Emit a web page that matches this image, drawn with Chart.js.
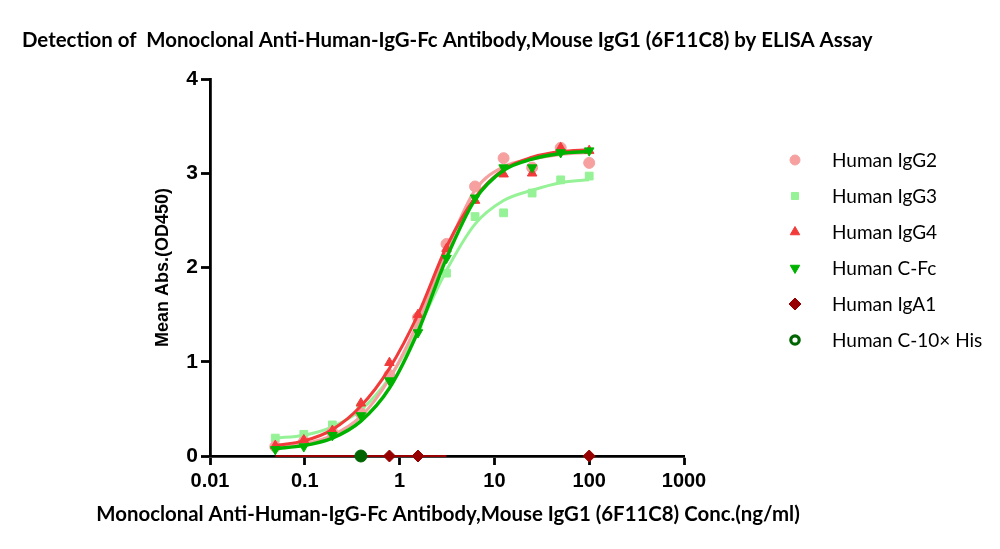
<!DOCTYPE html>
<html>
<head>
<meta charset="utf-8">
<script src="https://cdn.jsdelivr.net/npm/chart.js@4.4.1/dist/chart.umd.min.js"></script>
<style>
  html, body { margin: 0; padding: 0; background: #fff; }
  #wrap { position: relative; width: 1000px; height: 549px; }
  canvas { display: block; }
</style>
</head>
<body>
<div id="wrap"><canvas id="c" width="1000" height="549"></canvas></div>
<script>
// ---- data ----
const chartTitle = "Detection of  Monoclonal Anti-Human-IgG-Fc Antibody,Mouse IgG1 (6F11C8) by ELISA Assay";
const xTitle = "Monoclonal Anti-Human-IgG-Fc Antibody,Mouse IgG1 (6F11C8) Conc.(ng/ml)";
const yTitle = "Mean Abs.(OD450)";
const xTicks = [0.01, 0.1, 1, 10, 100, 1000];
const yTicks = [0, 1, 2, 3, 4];

const conc = [100, 50, 25, 12.5, 6.25, 3.125, 1.5625, 0.78125, 0.390625, 0.1953125, 0.09765625, 0.048828125];

// measured points
const igg2 = [3.11, 3.27, 3.06, 3.16, 2.86, 2.25, 1.47, 0.86, 0.45, 0.25, 0.15, 0.10];
const igg3 = [2.97, 2.93, 2.79, 2.58, 2.54, 1.94, 1.38, 0.84, 0.52, 0.33, 0.23, 0.19];
const igg4 = [3.24, 3.27, 3.00, 2.99, 2.71, 2.20, 1.50, 0.99, 0.56, 0.27, 0.17, 0.11];
const cfc  = [3.24, 3.22, 3.06, 3.06, 2.74, 2.10, 1.31, 0.80, 0.43, 0.22, 0.10, 0.07];
const iga1Conc = [100, 1.5625, 0.78125];
const iga1 = [0, 0, 0];
const his10Conc = [0.390625];
const his10 = [0];

// fitted curves (values of the drawn curves at each concentration)
const igg2Fit = [3.22, 3.20, 3.15, 3.07, 2.82, 2.18, 1.42, 0.82, 0.42, 0.22, 0.13, 0.09];
const igg3Fit = [2.93, 2.90, 2.82, 2.71, 2.46, 1.97, 1.35, 0.83, 0.49, 0.31, 0.22, 0.19];
const igg4Fit = [3.25, 3.23, 3.17, 3.04, 2.74, 2.22, 1.50, 0.93, 0.53, 0.28, 0.16, 0.11];
const cfcFit  = [3.23, 3.21, 3.15, 3.03, 2.72, 2.10, 1.32, 0.72, 0.37, 0.19, 0.11, 0.08];
const iga1FitConc = [3.125, 1.5625, 0.78125, 0.390625, 0.1953125, 0.09765625, 0.048828125];
const iga1Fit = [0, 0, 0, 0, 0, 0, 0];

const legendLabels = ["Human IgG2", "Human IgG3", "Human IgG4", "Human C-Fc", "Human IgA1", "Human C-10\u00d7 His"];

// ---- styles ----
const cPink = 'rgb(246,160,160)';
const cLGreen = 'rgb(150,242,150)';
const cRed = 'rgb(242,58,58)';
const cGreen = 'rgb(0,178,0)';
const cDRed = 'rgb(150,0,0)';
const cDGreen = 'rgb(0,100,0)';

function pts(xs, ys) { return xs.map((x, i) => ({x: x, y: ys[i]})); }

function lineDs(data, color, width) {
  return {
    type: 'line', data: data, borderColor: color, borderWidth: width,
    pointRadius: 0, pointHoverRadius: 0, fill: false,
    cubicInterpolationMode: 'monotone', clip: false
  };
}
function ptDs(data, color, style, radius, rotation) {
  return {
    type: 'scatter', data: data, showLine: false,
    pointStyle: style, pointRadius: radius, pointRotation: rotation || 0,
    backgroundColor: color, borderColor: color, borderWidth: 1, clip: false
  };
}

const legendItems = [
  {color: cPink, style: 'circle', r: 5, rot: 0},
  {color: cLGreen, style: 'rect', r: 5, rot: 0},
  {color: cRed, style: 'triangle', r: 5.5, rot: 0},
  {color: cGreen, style: 'triangle', r: 5.5, rot: 180},
  {color: cDRed, style: 'rectRot', r: 6, rot: 0},
  {color: cDGreen, style: 'ring', r: 5, rot: 0}
];

const decor = {
  id: 'decor',
  afterDraw(chart) {
    const ctx = chart.ctx;
    const area = chart.chartArea;
    ctx.save();
    ctx.fillStyle = '#000';
    ctx.textBaseline = 'alphabetic';
    // main title
    ctx.font = 'bold 20.4px Lato';
    ctx.textAlign = 'left';
    ctx.fillText(chartTitle, 22, 47);
    // x axis title
    ctx.textAlign = 'center';
    ctx.fillText(xTitle, (area.left + area.right) / 2 + 1, 521);
    // legend
    ctx.textAlign = 'left';
    const y0 = 160, dy = 36;
    legendLabels.forEach((lab, i) => {
      const it = legendItems[i];
      const y = y0 + dy * i;
      const x = 795;
      if (it.style === 'ring') {
        ctx.beginPath();
        ctx.arc(x, y, 4.2, 0, Math.PI * 2);
        ctx.lineWidth = 3.2;
        ctx.strokeStyle = it.color;
        ctx.stroke();
      } else {
        ctx.fillStyle = it.color;
        ctx.strokeStyle = it.color;
        ctx.lineWidth = 1;
        Chart.helpers.drawPoint(ctx, {pointStyle: it.style, radius: it.r, rotation: it.rot, borderWidth: 1}, x, y);
      }
      ctx.fillStyle = '#000';
      ctx.font = '19px Lato';
      ctx.textBaseline = 'middle';
      ctx.fillText(lab, 832, y + 1);
    });
    ctx.restore();
  }
};

new Chart(document.getElementById('c'), {
  data: {
    datasets: [
      ptDs(pts(his10Conc, his10), cDGreen, 'circle', 6),
      ptDs(pts(conc, cfc), cGreen, 'triangle', 5.5, 180),
      lineDs(pts(conc, cfcFit), cGreen, 3.5),
      ptDs(pts(conc, igg4), cRed, 'triangle', 5.5),
      lineDs(pts(conc, igg4Fit), cRed, 3),
      ptDs(pts(conc, igg2), cPink, 'circle', 5.5),
      lineDs(pts(conc, igg2Fit), cPink, 3),
      ptDs(pts(conc, igg3), cLGreen, 'rect', 5.5),
      lineDs(pts(conc, igg3Fit), cLGreen, 3),
      ptDs(pts(iga1Conc, iga1), cDRed, 'rectRot', 6),
      lineDs(pts(iga1FitConc, iga1Fit), cDRed, 2)
    ]
  },
  options: {
    responsive: false,
    animation: false,
    devicePixelRatio: 1,
    layout: { padding: { left: 150, right: 316, top: 79, bottom: 0 } },
    plugins: { legend: { display: false }, tooltip: { enabled: false }, title: { display: false } },
    scales: {
      x: {
        type: 'logarithmic', position: 'bottom', min: 0.01, max: 1000,
        afterBuildTicks(s) { s.ticks = xTicks.map(v => ({value: v})); },
        afterFit(s) { s.height = 93; },
        ticks: {
          autoSkip: false, maxRotation: 0, minRotation: 0, color: '#000',
          font: { family: 'Liberation Sans', size: 20, weight: 'bold' }, padding: 4,
          callback: (v) => String(v)
        },
        grid: { display: true, drawOnChartArea: false, drawTicks: true, tickLength: 9, tickColor: '#000', tickWidth: 2.8 },
        border: { display: true, color: '#000', width: 2.8 },
        title: { display: false }
      },
      y: {
        type: 'linear', min: 0, max: 4,
        afterBuildTicks(s) { s.ticks = yTicks.map(v => ({value: v})); },
        afterFit(s) { s.width = 60; },
        ticks: {
          color: '#000', font: { family: 'Liberation Sans', size: 21, weight: 'bold' }, padding: 3
        },
        grid: { display: true, drawOnChartArea: false, drawTicks: true, tickLength: 9, tickColor: '#000', tickWidth: 2.8 },
        border: { display: true, color: '#000', width: 2.8 },
        title: { display: true, text: yTitle, color: '#000', font: { family: 'Liberation Sans', size: 18, weight: 'bold' }, padding: { top: 2, bottom: 0 } }
      }
    }
  },
  plugins: [decor]
});
</script>
</body>
</html>
